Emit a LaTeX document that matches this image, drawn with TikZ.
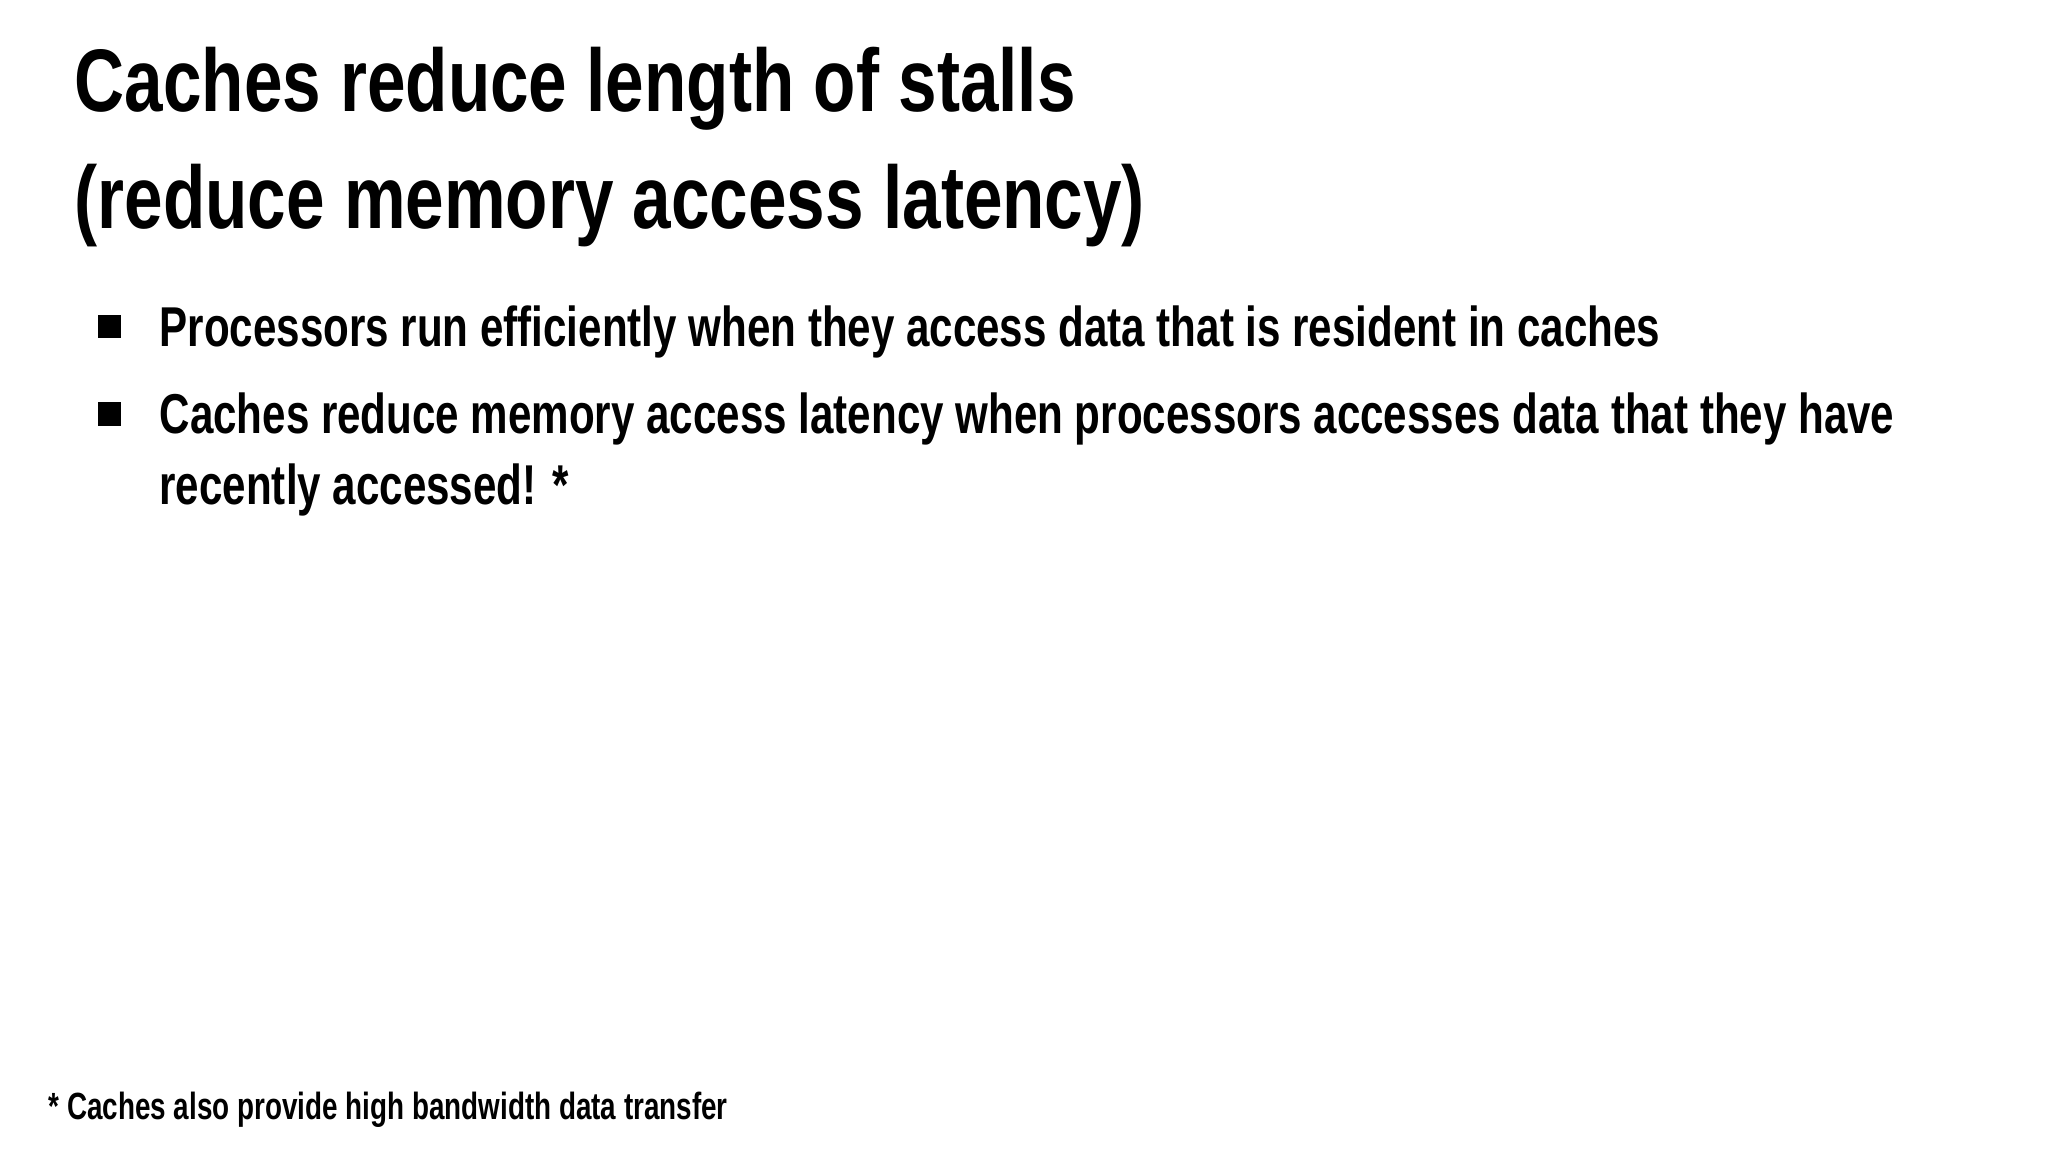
\documentclass[tikz,border=0pt]{standalone}
\usepackage{fontspec}
\setmainfont{Liberation Sans}[FakeStretch=0.75]
\newfontfamily\titlefam{Liberation Sans}[FakeStretch=0.78]
\newfontfamily\footfam{Liberation Sans}[FakeStretch=0.735]
\begin{document}
\begin{tikzpicture}[x=1pt,y=-1pt,
  title/.style={anchor=base west,inner sep=0pt,font=\titlefam\fontsize{68}{80}\selectfont\bfseries},
  btxt/.style={anchor=base west,inner sep=0pt,font=\fontsize{43}{54}\selectfont\bfseries},
  bsq/.style={fill=black,minimum size=18pt,inner sep=0pt},
  foot/.style={anchor=base west,inner sep=0pt,font=\footfam\fontsize{29}{34}\selectfont\bfseries}]
\useasboundingbox[fill=white] (0,0) rectangle (1568,882);
\node[title] (t1) at (57,85) {Caches reduce length of stalls};
\node[title] (t2) at (57,175) {(reduce memory access latency)};
\node[bsq] (s1) at (84,250) {};
\node[btxt] (b1) at (122,265) {Processors run efficiently when they access data that is resident in caches};
\node[bsq] (s2) at (84,317) {};
\node[btxt] (b2) at (122,332) {Caches reduce memory access latency when processors accesses data that they have};
\node[btxt] (b3) at (122,386) {recently accessed! *};
\node[foot] (f) at (37,857) {* Caches also provide high bandwidth data transfer};
\end{tikzpicture}
\end{document}
